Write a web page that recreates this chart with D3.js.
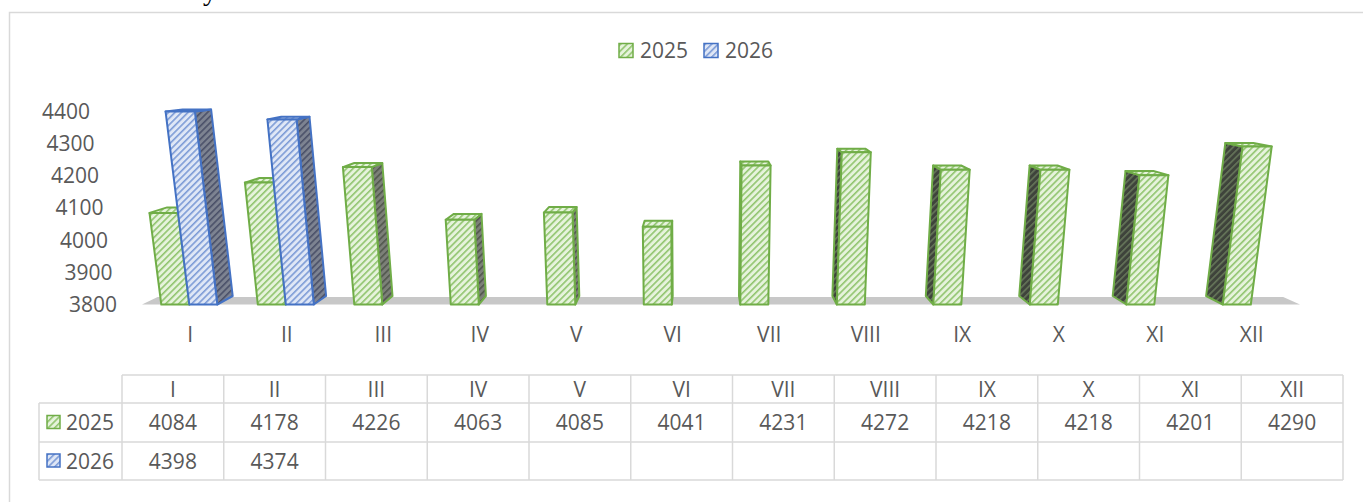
<!DOCTYPE html>
<html lang="en">
<head>
<meta charset="utf-8">
<title>2025 / 2026</title>
<style>
  body { margin: 0; background: #fff; }
  svg text { font-family: "Open Sans", "Noto Sans", sans-serif; fill: #595959; }
</style>
</head>
<body>
<svg id="chart" width="1363" height="502"></svg>
<script src="https://d3js.org/d3.v7.min.js"></script>
<script>
  const months = ["I", "II", "III", "IV", "V", "VI", "VII", "VIII", "IX", "X", "XI", "XII"];
  const seriesNames = ["2025", "2026"];
  const values2025 = [4084, 4178, 4226, 4063, 4085, 4041, 4231, 4272, 4218, 4218, 4201, 4290];
  const values2026 = [4398, 4374];
  const yTicks = [3800, 3900, 4000, 4100, 4200, 4300, 4400];

  const svg = d3.select("#chart");
  const defs = svg.append("defs");

  // perspective: front plane leans away from cx, depth goes to (cx, vy)
  const cx = 700, vy = 40, y0 = 304.5, k = 0.00024;
  const proj = (x, y) => [cx + (x - cx) * (1 + k * (y0 - y)), y];
  const back = (p, t) => [cx + (p[0] - cx) * (1 - t), vy + (p[1] - vy) * (1 - t)];

  const x0 = d3.scaleBand().domain(months).range([142, 1300]).padding(0);
  const x1 = d3.scaleBand().domain(seriesNames)
    .range([x0.bandwidth() * 0.2, x0.bandwidth() * 0.78]);
  const y = d3.scaleLinear().domain([3800, 4400]).range([y0, 111]);

  const styles = {
    "2025": { stroke: "#70ad47", front: ["#e6f3dc", "#90c46e"], sideR: ["#7c8078", "#50564c"], sideL: ["#3e433b", "#66765a"] },
    "2026": { stroke: "#4472c4", front: ["#dfe7f6", "#7c9bd6"], sideR: ["#7d8391", "#4a5068"], sideL: ["#444a58", "#6b7894"] }
  };

  function hatch(id, bg, fg, size) {
    const p = defs.append("pattern")
      .attr("id", id)
      .attr("patternUnits", "userSpaceOnUse")
      .attr("width", size).attr("height", 10)
      .attr("patternTransform", "rotate(45)");
    p.append("rect").attr("width", size).attr("height", 10).attr("fill", bg);
    p.append("rect").attr("width", 1.6).attr("height", 10).attr("fill", fg);
  }
  seriesNames.forEach(s => {
    hatch("front" + s, styles[s].front[0], styles[s].front[1], 4.6);
    hatch("sideR" + s, styles[s].sideR[0], styles[s].sideR[1], 4.6);
    hatch("sideL" + s, styles[s].sideL[0], styles[s].sideL[1], 4.6);
  });

  // chart frame
  svg.append("path")
    .attr("d", "M9.5,502 V12.5 H1363")
    .attr("fill", "none").attr("stroke", "#d9d9d9").attr("stroke-width", 1.5);

  // cut-off heading above the chart
  svg.append("text").attr("x", 203).attr("y", 0)
    .style("font-family", "'Liberation Serif', serif").style("fill", "#000")
    .attr("font-size", 28).text("y");

  // legend
  const legend = svg.append("g");
  const legendX = { "2025": 619, "2026": 704 };
  seriesNames.forEach(s => {
    legend.append("rect").attr("x", legendX[s]).attr("y", 43.5).attr("width", 14).attr("height", 14)
      .attr("fill", `url(#front${s})`).attr("stroke", styles[s].stroke).attr("stroke-width", 1.5);
    legend.append("text").attr("x", legendX[s] + 21).attr("y", 58).attr("font-size", 21).text(s);
  });

  // y axis labels (lean with the front plane)
  svg.append("g").selectAll("text")
    .data(yTicks)
    .join("text")
    .attr("x", d => proj(117, y(d))[0])
    .attr("y", d => y(d) + 7.5)
    .attr("text-anchor", "end")
    .attr("font-size", 21)
    .text(d => d);

  // floor
  const tFloor = 0.028;
  const fl = [proj(x0.range()[0], y0), proj(x0.range()[1], y0)];
  const floorPts = [fl[0], fl[1], back(fl[1], tFloor), back(fl[0], tFloor)];
  svg.append("polygon").attr("points", floorPts.map(p => p.join(",")).join(" ")).attr("fill", "#c8c8c8");

  // bars
  const bars = [];
  months.forEach((m, i) => {
    [values2025, values2026].forEach((arr, j) => {
      if (arr[i] !== undefined) bars.push({ month: m, series: seriesNames[j], value: arr[i] });
    });
  });
  const tBar = 0.032;
  bars.forEach(d => {
    d.xa = x0(d.month) + x1(d.series);
    d.xb = d.xa + x1.bandwidth();
    d.mid = (d.xa + d.xb) / 2;
  });
  bars.sort((a, b) => Math.abs(b.mid - cx) - Math.abs(a.mid - cx));

  const pts = arr => arr.map(p => p[0].toFixed(1) + "," + p[1].toFixed(1)).join(" ");
  const barG = svg.append("g");
  bars.forEach(d => {
    const yt = y(d.value), yb = y(3800);
    const lb = proj(d.xa, yb), rb = proj(d.xb, yb), rt = proj(d.xb, yt), lt = proj(d.xa, yt);
    const st = styles[d.series];
    const g = barG.append("g")
      .attr("stroke", st.stroke).attr("stroke-width", 2).attr("stroke-linejoin", "round");
    if (d.mid < cx) {
      g.append("polygon").attr("points", pts([rt, back(rt, tBar), back(rb, tBar), rb]))
        .attr("fill", `url(#sideR${d.series})`);
    } else {
      g.append("polygon").attr("points", pts([lt, back(lt, tBar), back(lb, tBar), lb]))
        .attr("fill", `url(#sideL${d.series})`);
    }
    g.append("polygon").attr("points", pts([lt, rt, back(rt, tBar), back(lt, tBar)]))
      .attr("fill", `url(#front${d.series})`);
    g.append("polygon").attr("points", pts([lb, rb, rt, lt]))
      .attr("fill", `url(#front${d.series})`);
  });

  // category labels
  svg.append("g").selectAll("text")
    .data(months)
    .join("text")
    .attr("x", d => x0(d) + x0.bandwidth() / 2)
    .attr("y", 342)
    .attr("text-anchor", "middle")
    .attr("font-size", 21)
    .text(d => d);

  // data table
  const tx = d3.scaleBand().domain(months).range([122, 1343]);
  const rowY = [375, 403, 442, 480];
  const tbl = svg.append("g").attr("stroke", "#d9d9d9").attr("stroke-width", 1.5).attr("fill", "none");
  tbl.append("line").attr("x1", 122).attr("x2", 1343).attr("y1", rowY[0]).attr("y2", rowY[0]);
  [1, 2, 3].forEach(r => tbl.append("line").attr("x1", 39).attr("x2", 1343).attr("y1", rowY[r]).attr("y2", rowY[r]));
  tbl.append("line").attr("x1", 39).attr("x2", 39).attr("y1", rowY[1]).attr("y2", rowY[3]);
  months.concat([null]).forEach((m, i) => {
    const xx = m ? tx(m) : tx.range()[1];
    tbl.append("line").attr("x1", xx).attr("x2", xx).attr("y1", rowY[0]).attr("y2", rowY[3]);
  });

  svg.append("g").selectAll("text")
    .data(months)
    .join("text")
    .attr("x", d => tx(d) + tx.bandwidth() / 2)
    .attr("y", 397)
    .attr("text-anchor", "middle")
    .attr("font-size", 21)
    .text(d => d);

  [values2025, values2026].forEach((arr, j) => {
    const s = seriesNames[j];
    const cy = (rowY[j + 1] + rowY[j + 2]) / 2;
    svg.append("rect").attr("x", 47).attr("y", cy - 7).attr("width", 13).attr("height", 13)
      .attr("fill", `url(#front${s})`).attr("stroke", styles[s].stroke).attr("stroke-width", 1.5);
    svg.append("text").attr("x", 66).attr("y", cy + 7.5).attr("font-size", 21).text(s);
    svg.append("g").selectAll("text")
      .data(arr)
      .join("text")
      .attr("x", (d, i) => tx(months[i]) + tx.bandwidth() / 2)
      .attr("y", cy + 7.5)
      .attr("text-anchor", "middle")
      .attr("font-size", 21)
      .text(d => d);
  });
</script>
</body>
</html>
